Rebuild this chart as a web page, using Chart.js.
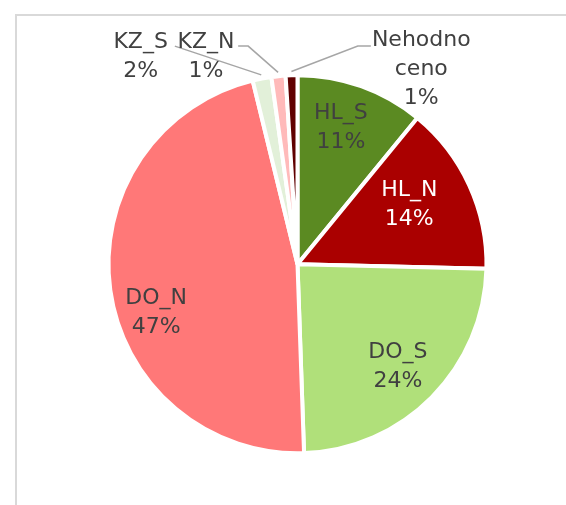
<!DOCTYPE html>
<html>
<head>
<meta charset="utf-8">
<script src="https://cdn.jsdelivr.net/npm/chart.js@4"></script>
<style>
  html,body{margin:0;padding:0;background:#fff;}
  #wrap{width:566px;height:505px;position:relative;}
</style>
</head>
<body>
<div id="wrap"><canvas id="c" width="566" height="505"></canvas></div>
<script>
// ---- data ----
const categories = ["HL_S", "HL_N", "DO_S", "DO_N", "KZ_S", "KZ_N", "Nehodnoceno"];
const labelLines = [["HL_S"], ["HL_N"], ["DO_S"], ["DO_N"], ["KZ_S"], ["KZ_N"], ["Nehodno", "ceno"]];
const values = [10.9, 14.4, 24.0, 46.6, 1.6, 1.2, 1.0];
const colors = ["#5b8a22", "#aa0000", "#b0e07a", "#ff7878", "#e2f0d9", "#ffbaba", "#600000"];

// ---- label placement (styling) ----
const deg = Math.PI / 180;
const labelStyle = [
  {type: "in", r: 0.755, da: -2, color: "#404040"},
  {type: "in", r: 0.67, da: -3.4, color: "#ffffff"},
  {type: "in", r: 0.76, da: 1, color: "#404040"},
  {type: "in", r: 0.79, da: -11, color: "#404040"},
  {type: "out", pos: [-0.83, -1.1], path: [[-0.649, -1.154]], color: "#404040"},
  {type: "out", pos: [-0.484, -1.1], path: [[-0.314, -1.154], [-0.261, -1.154]], color: "#404040"},
  {type: "out", pos: [0.655, -1.03], path: [[0.388, -1.154], [0.319, -1.154]], color: "#404040"}
];

const frame = {
  id: "frame",
  beforeDraw(chart) {
    const ctx = chart.ctx;
    ctx.save();
    ctx.fillStyle = "#ffffff";
    ctx.fillRect(0, 0, chart.width, chart.height);
    ctx.fillStyle = "#d9d9d9";
    ctx.fillRect(15, 14, chart.width - 15, 2);
    ctx.fillRect(15, 14, 2, chart.height - 14);
    ctx.restore();
  }
};

const sliceLabels = {
  id: "sliceLabels",
  afterDatasetsDraw(chart) {
    const ctx = chart.ctx;
    const meta = chart.getDatasetMeta(0);
    const total = values.reduce((a, b) => a + b, 0);
    ctx.save();
    ctx.font = "22px 'DejaVu Sans'";
    ctx.textAlign = "center";
    ctx.textBaseline = "middle";
    const lh = 29;
    meta.data.forEach((arc, i) => {
      const p = arc.getProps(["x", "y", "startAngle", "endAngle", "outerRadius"], true);
      const mid = (p.startAngle + p.endAngle) / 2;
      const R = p.outerRadius;
      const st = labelStyle[i];
      const lines = labelLines[i].concat([Math.round(values[i] / total * 100) + "%"]);
      let cx, cy;
      if (st.type === "in") {
        const a = mid + st.da * deg;
        cx = p.x + Math.cos(a) * R * st.r;
        cy = p.y + Math.sin(a) * R * st.r;
      } else {
        cx = p.x + st.pos[0] * R;
        cy = p.y + st.pos[1] * R;
        ctx.strokeStyle = "#a6a6a6";
        ctx.lineWidth = 1.5;
        ctx.beginPath();
        st.path.forEach((pt, k) => {
          const px = p.x + pt[0] * R, py = p.y + pt[1] * R;
          if (k === 0) ctx.moveTo(px, py); else ctx.lineTo(px, py);
        });
        ctx.lineTo(p.x + Math.cos(mid) * R * 1.02, p.y + Math.sin(mid) * R * 1.02);
        ctx.stroke();
      }
      ctx.fillStyle = st.color;
      const y0 = cy - (lines.length - 1) * lh / 2;
      lines.forEach((t, k) => ctx.fillText(t, cx, y0 + k * lh));
    });
    ctx.restore();
  }
};

new Chart(document.getElementById("c"), {
  type: "pie",
  data: {
    labels: categories,
    datasets: [{
      data: values,
      backgroundColor: colors,
      borderColor: "#ffffff",
      borderWidth: 4
    }]
  },
  options: {
    responsive: false,
    animation: false,
    layout: {padding: {top: 73.2, bottom: 49.8, left: 106.5, right: 77.5}},
    plugins: {legend: {display: false}, tooltip: {enabled: false}}
  },
  plugins: [frame, sliceLabels]
});
</script>
</body>
</html>
